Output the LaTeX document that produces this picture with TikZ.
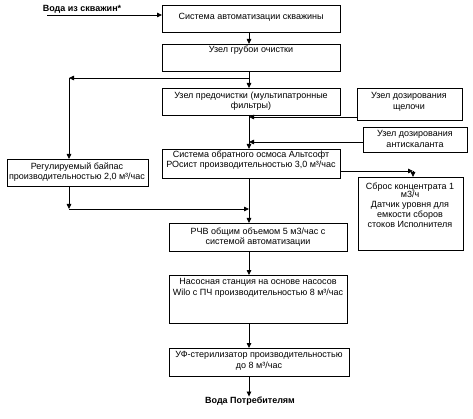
\documentclass[tikz,border=0pt]{standalone}
\usepackage{fontspec}
\setmainfont{Liberation Sans}
\usetikzlibrary{arrows.meta,calc}
\begin{document}
\begin{tikzpicture}[x=1pt,y=-1pt,
  box/.style={draw,line width=0.8pt,anchor=north west,inner sep=0pt,outer sep=0pt},
  txt/.style={align=center,font=\fontsize{9}{10.5}\selectfont,inner sep=0pt},
  bold/.style={font=\bfseries\fontsize{9}{10.5}\selectfont,inner sep=0pt},
  arr/.style={line width=0.8pt,-{Triangle[length=5pt,width=4.5pt]}}]
\useasboundingbox (0,0) rectangle (473,419);
% boxes
\node[box,minimum width=178,minimum height=27] (b1) at (162,5) {};
\node[box,minimum width=178,minimum height=27] (b2) at (162,44) {};
\node[box,minimum width=178,minimum height=27] (b3) at (162,88) {};
\node[box,minimum width=105,minimum height=32] (alk) at (357,88) {};
\node[box,minimum width=104,minimum height=25] (anti) at (363,127) {};
\node[box,minimum width=178,minimum height=29] (ro) at (162,149) {};
\node[box,minimum width=141,minimum height=27] (byp) at (7,159) {};
\node[box,minimum width=105,minimum height=73] (sbr) at (358,177) {};
\node[box,minimum width=178,minimum height=28] (rvc) at (169,223) {};
\node[box,minimum width=178,minimum height=48] (pump) at (169,275) {};
\node[box,minimum width=180,minimum height=28] (uv) at (169,348) {};
% texts
\node[txt] (t1) at (251,17) {Система автоматизации скважины};
\node[txt] (t2) at (251,50) {Узел грубои очистки};
\node[txt] (t3) at (251,101) {Узел предочистки (мультипатронные\\фильтры)};
\node[txt] (t4) at (409,102) {Узел дозирования\\щелочи};
\node[txt] (t5) at (415,139) {Узел дозирования\\антискаланта};
\node[txt] (t6) at (251,160) {Система обратного осмоса Альтсофт\\РОсист производительностью 3,0 м³/час};
\node[txt] (t7) at (77,172) {Регулируемый байпас\\производительностью 2,0 м³/час};
\node[txt,font=\fontsize{9}{10}\selectfont] (t8) at (410,205) {Сброс концентрата 1\\[-2pt]м3/ч\\Датчик уровня для\\емкости сборов\\стоков Исполнителя};
\node[txt] (t9) at (258,237) {РЧВ общим объемом 5 м3/час с\\системой автоматизации};
\node[txt] (t10) at (258,288) {Насосная станция на основе насосов\\Wilo с ПЧ производительностью 8 м³/час};
\node[txt] (t11) at (259,361) {УФ-стерилизатор производительностью\\до 8 м³/час};
\node[bold] (src) at (82,9) {Вода из скважин*};
\node[bold] (dst) at (250,401) {Вода Потребителям};
% coordinates
\coordinate (sp) at (249,0);
\coordinate (srcl) at (47,15);
\coordinate (j1) at (249,78);
\coordinate (c1) at (69,78);
\coordinate (c2) at (69,209);
\coordinate (j2) at (249,209);
\coordinate (c3) at (413,171);
\coordinate (alkp) at (357,117);
\coordinate (antip) at (363,142);
% connectors
\draw[arr] (srcl) -- (srcl -| b1.west);
\draw[arr] (b1.south -| sp) -- (b2.north -| sp);
\draw[arr] (b2.south -| sp) -- (b3.north -| sp);
\draw[arr] (j1) -- (c1);
\draw[arr] (c1) -- (byp.north -| c1);
\draw[arr] (b3.south -| sp) -- (ro.north -| sp);
\draw[arr] (alkp) -- (alkp -| sp);
\draw[arr] (antip) -- (antip -| sp);
\draw[arr] (byp.south -| c2) -- (c2);
\draw[arr] (c2) -- (j2);
\draw[arr] (ro.south -| sp) -- (rvc.north -| sp);
\draw[arr] (c3 -| ro.east) -- (c3);
\draw[arr] (c3) -- (sbr.north -| c3);
\draw[arr] (rvc.south -| sp) -- (pump.north -| sp);
\draw[arr] (pump.south -| sp) -- (uv.north -| sp);
\draw[arr] (uv.south -| sp) -- (dst.north -| sp);
\end{tikzpicture}
\end{document}
